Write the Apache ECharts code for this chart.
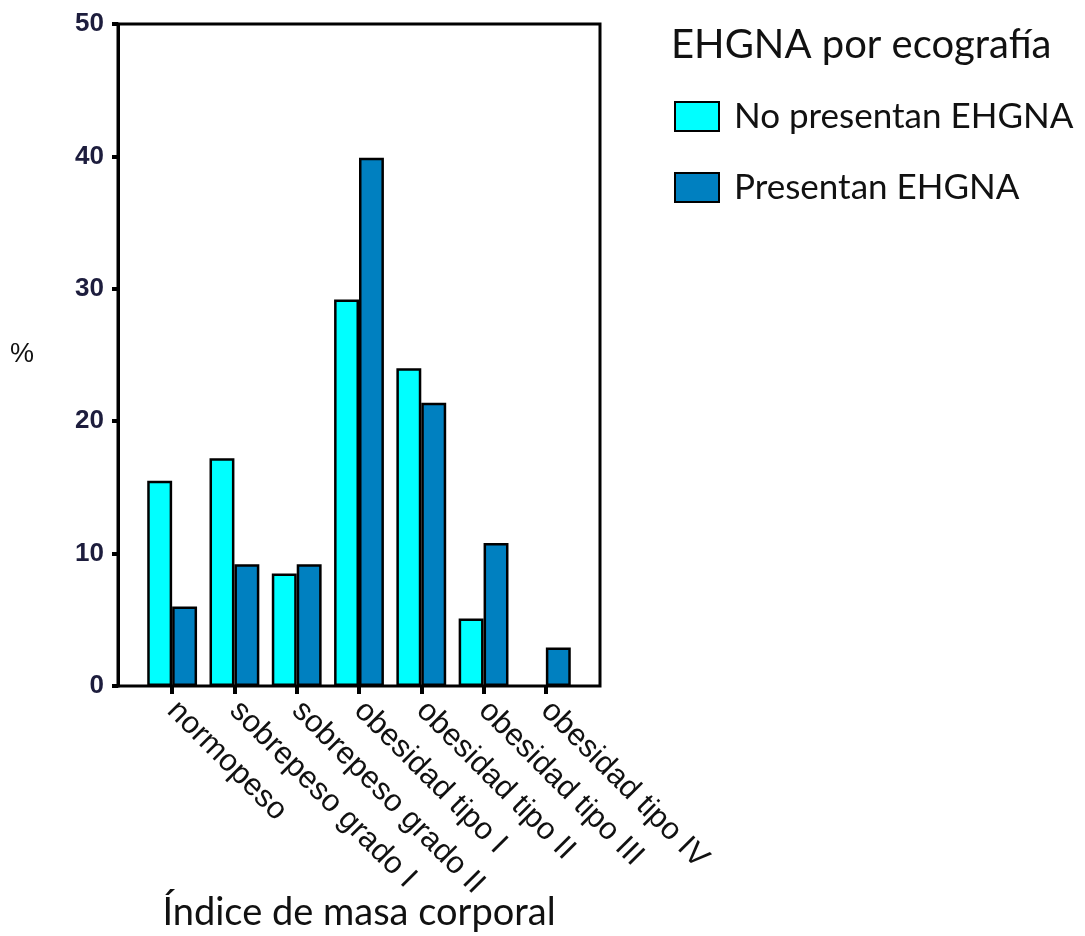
<!DOCTYPE html>
<html>
<head>
<meta charset="utf-8">
<script src="https://cdn.jsdelivr.net/npm/echarts@6/dist/echarts.min.js"></script>
<style>
html,body{margin:0;padding:0;background:#fff;}
#chart{width:1085px;height:936px;}
</style>
</head>
<body>
<div id="chart"></div>
<script>
const categories = ['normopeso', 'sobrepeso grado I', 'sobrepeso grado II', 'obesidad tipo I', 'obesidad tipo II', 'obesidad tipo III', 'obesidad tipo IV'];
const noPresentan = [15.5, 17.2, 8.5, 29.2, 24.0, 5.1, 0];
const presentan = [6.0, 9.2, 9.2, 39.9, 21.4, 10.8, 2.9];
const yTicks = { min: 0, max: 50, interval: 10 };
const seriesNames = ['No presentan EHGNA', 'Presentan EHGNA'];
const legendTitle = 'EHGNA por ecografía';
const xTitle = 'Índice de masa corporal';
const yTitle = '%';

const chart = echarts.init(document.getElementById('chart'), null, { renderer: 'canvas' });
const labelFont = 'Liberation Sans';
const titleFont = 'Lato';

// zero-height bars get no outline (nothing is drawn in the reference)
const toBarData = arr => arr.map(v => v === 0 ? { value: v, itemStyle: { borderWidth: 0 } } : v);

chart.setOption({
  animation: false,
  backgroundColor: '#ffffff',
  title: {
    text: legendTitle,
    left: 666,
    top: 20,
    textStyle: { fontFamily: titleFont, fontSize: 40, fontWeight: 'normal', color: '#111' }
  },
  legend: {
    data: seriesNames,
    orient: 'vertical',
    left: 669,
    top: 94,
    itemWidth: 44,
    itemHeight: 29,
    itemGap: 36,
    icon: 'rect',
    itemStyle: { borderColor: '#000', borderWidth: 2 },
    textStyle: { fontFamily: titleFont, fontSize: 35, color: '#111', padding: [0, 0, 0, 10] }
  },
  grid: [
    { left: 118, right: 485, top: 24, bottom: 250, show: true, borderColor: '#000', borderWidth: 3, backgroundColor: 'transparent', containLabel: false, outerBoundsMode: 'none' },
    { left: 141, right: 508, top: 24, bottom: 250, containLabel: false, outerBoundsMode: 'none' }
  ],
  xAxis: [
    { type: 'category', gridIndex: 0, data: ['a'], show: false },
    {
      type: 'category', gridIndex: 1, data: categories,
      axisLine: { show: false },
      axisTick: { show: true, alignWithLabel: true, length: 8, lineStyle: { color: '#000', width: 4 } },
      axisLabel: { rotate: -45, fontFamily: labelFont, fontSize: 31, color: '#111', margin: 20, interval: 0 },
      name: xTitle,
      nameLocation: 'middle',
      nameGap: 208,
      nameMoveOverlap: false,
      nameTextStyle: { fontFamily: titleFont, fontSize: 38, color: '#111' }
    }
  ],
  yAxis: [
    {
      type: 'value', gridIndex: 0, min: yTicks.min, max: yTicks.max, interval: yTicks.interval,
      axisLine: { show: true, lineStyle: { color: '#000', width: 3 } },
      axisTick: { show: true, inside: false, length: 6, lineStyle: { color: '#000', width: 4 } },
      axisLabel: { fontFamily: labelFont, fontSize: 26, fontWeight: 'bold', color: '#1d1d3d', margin: 14 },
      splitLine: { show: false },
      name: yTitle,
      nameLocation: 'middle',
      nameRotate: 0,
      nameGap: 84,
      nameMoveOverlap: false,
      nameTextStyle: { fontFamily: labelFont, fontSize: 27, color: '#111' }
    },
    { type: 'value', gridIndex: 1, min: yTicks.min, max: yTicks.max, interval: yTicks.interval, show: false }
  ],
  series: [
    {
      name: seriesNames[0], type: 'bar', xAxisIndex: 1, yAxisIndex: 1, data: toBarData(noPresentan),
      barGap: '0%', barCategoryGap: '20%',
      itemStyle: { color: '#00ffff', borderColor: '#000', borderWidth: 2.5 }
    },
    {
      name: seriesNames[1], type: 'bar', xAxisIndex: 1, yAxisIndex: 1, data: toBarData(presentan),
      barGap: '0%', barCategoryGap: '20%',
      itemStyle: { color: '#0080c0', borderColor: '#000', borderWidth: 2.5 }
    }
  ]
});
</script>
</body>
</html>
